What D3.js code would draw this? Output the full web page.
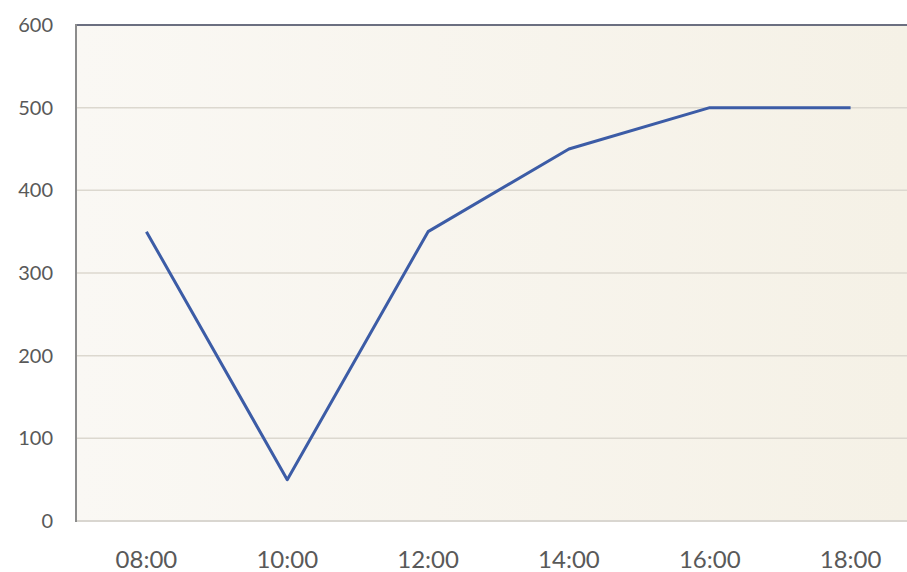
<!DOCTYPE html>
<html>
<head>
<meta charset="utf-8">
<script src="https://cdn.jsdelivr.net/npm/d3@7"></script>
<style>
  html, body { margin: 0; padding: 0; background: #ffffff; }
  svg { display: block; }
</style>
</head>
<body>
<svg id="chart" width="907" height="572"></svg>
<script>
// Hourly readings
const times = ["08:00", "10:00", "12:00", "14:00", "16:00", "18:00"];
const values = [350, 50, 350, 450, 500, 500];
const yTicks = [0, 100, 200, 300, 400, 500, 600];

const W = 907, H = 572;
const plot = { left: 76, right: 921, top: 25, bottom: 521 };

const svg = d3.select("#chart");

const defs = svg.append("defs");
const grad = defs.append("linearGradient").attr("id", "bg")
  .attr("x1", "0%").attr("x2", "100%").attr("y1", "0%").attr("y2", "0%");
grad.append("stop").attr("offset", "0%").attr("stop-color", "#faf8f4");
grad.append("stop").attr("offset", "100%").attr("stop-color", "#f5f1e6");

const x = d3.scaleBand().domain(times).range([plot.left, plot.right]).padding(0);
const y = d3.scaleLinear().domain([0, 600]).range([plot.bottom, plot.top]);

// plot background
svg.append("rect")
  .attr("x", plot.left).attr("y", plot.top)
  .attr("width", W - plot.left).attr("height", plot.bottom - plot.top)
  .attr("fill", "url(#bg)");

// horizontal gridlines
svg.append("g").selectAll("line")
  .data(yTicks.filter(d => d > 0 && d < 600))
  .join("line")
  .attr("x1", plot.left).attr("x2", W)
  .attr("y1", d => y(d)).attr("y2", d => y(d))
  .attr("stroke", "#dcd8cf").attr("stroke-width", 1.5);

// baseline
svg.append("line")
  .attr("x1", plot.left).attr("x2", W)
  .attr("y1", y(0)).attr("y2", y(0))
  .attr("stroke", "#d9d6d0").attr("stroke-width", 2);

// top border
svg.append("line")
  .attr("x1", plot.left).attr("x2", W)
  .attr("y1", y(600)).attr("y2", y(600))
  .attr("stroke", "#6b6f80").attr("stroke-width", 2);

// left axis line
svg.append("line")
  .attr("x1", plot.left).attr("x2", plot.left)
  .attr("y1", y(600) - 1).attr("y2", y(0) + 1)
  .attr("stroke", "#8c8c8c").attr("stroke-width", 2);

const fontStack = "Lato, 'Open Sans', sans-serif";

// y axis labels
const yAxis = d3.axisLeft(y).tickValues(yTicks).tickSize(0).tickPadding(23);
const gy = svg.append("g").attr("transform", `translate(${plot.left},0)`).call(yAxis);
gy.select(".domain").remove();
gy.selectAll("text")
  .attr("fill", "#595959")
  .style("font-family", fontStack)
  .style("font-size", "20px");

// x axis labels
const xAxis = d3.axisBottom(x).tickSize(0).tickPadding(30);
const gx = svg.append("g").attr("transform", `translate(0,${plot.bottom})`).call(xAxis);
gx.select(".domain").remove();
gx.selectAll("text")
  .attr("fill", "#595959")
  .style("font-family", fontStack)
  .style("font-size", "24px");

// series line
const line = d3.line()
  .x((d, i) => x(times[i]) + x.bandwidth() / 2)
  .y(d => y(d));

svg.append("path")
  .datum(values)
  .attr("d", line)
  .attr("fill", "none")
  .attr("stroke", "#3c5ca6")
  .attr("stroke-width", 3)
  .attr("stroke-linejoin", "round");
</script>
</body>
</html>
